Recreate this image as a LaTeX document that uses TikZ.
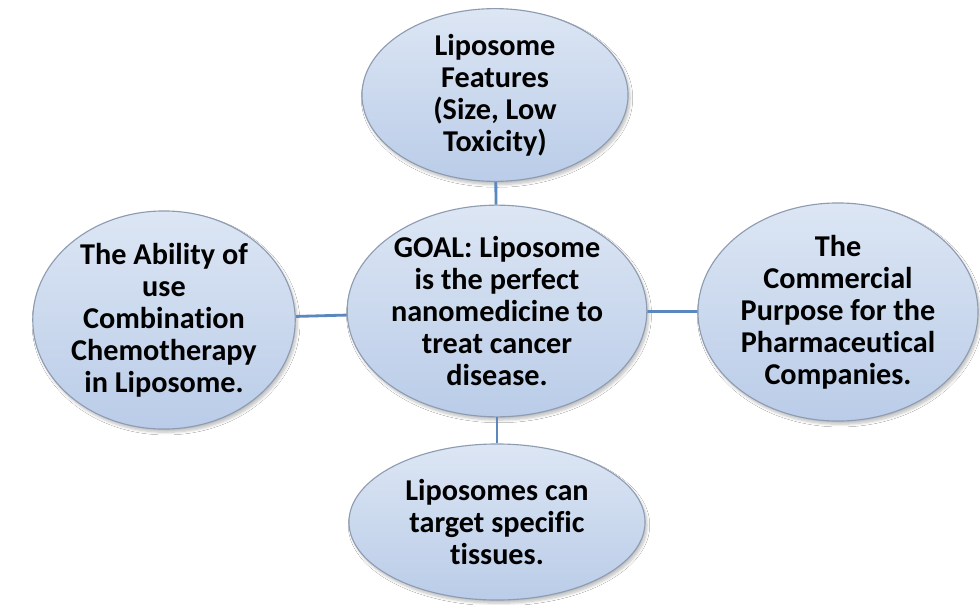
\documentclass[tikz,border=0pt]{standalone}
\usepackage{fontspec}
\setmainfont{Carlito}[Ligatures={NoCommon}]
\usepackage{tikz}
\usetikzlibrary{shapes.geometric, shadows, shadows.blur, positioning}
\definecolor{bubbletop}{HTML}{DCE6F4}
\definecolor{bubblebot}{HTML}{BACCE8}
\definecolor{bubbleline}{HTML}{8E9CB2}
\definecolor{linkblue}{HTML}{5B87BF}
\tikzstyle{bubble}  = [ellipse, draw=bubbleline, line width=0.8pt, top color=bubbletop, bottom color=bubblebot, inner sep=0pt, align=center, font=\fontsize{21.5}{22.8}\selectfont\bfseries, blur shadow={shadow xshift=0.5mm, shadow yshift=-0.8mm, shadow blur steps=6, shadow opacity=25}]
\tikzstyle{link}    = [draw=linkblue, line width=2pt]
\begin{document}
\begin{tikzpicture}[x=0.025cm, y=-0.025cm]

\useasboundingbox[fill=white] (0,0) rectangle (980,605);

\node[bubble, minimum width=6.6cm, minimum height=4.7cm] (goal)   at (497,311) {GOAL: Liposome\\is the perfect\\nanomedicine to\\treat cancer\\disease.};
\node[bubble, minimum width=6.65cm, minimum height=4.1cm] (feat)   at (495,95)  {Liposome\\Features\\(Size, Low\\Toxicity)};
\node[bubble, minimum width=6.5cm, minimum height=4.1cm] (combo)  at (164,320) {The Ability of\\use\\Combination\\Chemotherapy\\in Liposome.};
\node[bubble, minimum width=7.0cm, minimum height=4.8cm] (comm)   at (838,312) {The\\Commercial\\Purpose for the\\Pharmaceutical\\Companies.};
\node[bubble, minimum width=7.4cm, minimum height=3.9cm] (target) at (497,522) {Liposomes can\\target specific\\tissues.};

\draw[link] (feat) -- (goal);
\draw[link] (combo) -- (goal);
\draw[link] (goal) -- (comm);
\draw[link] (goal) -- (target);

\end{tikzpicture}
\end{document}
